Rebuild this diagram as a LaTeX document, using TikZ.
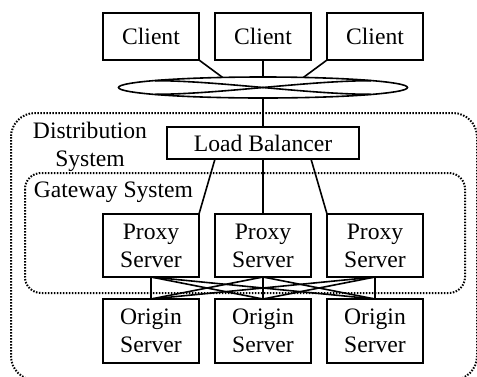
\documentclass[tikz,border=0pt]{standalone}
\usepackage{fontspec}
\setmainfont{Liberation Serif}
\usetikzlibrary{calc, shapes, positioning}

\begin{document}
\begin{tikzpicture}[x=0.5pt, y=-0.5pt, line width=0.8pt,
        font=\fontsize{11.8}{14}\selectfont,
        box/.style={draw, rectangle, minimum width=48pt, inner sep=0pt, outer sep=0pt, align=center},
        region/.style={draw, dash pattern=on 0.75pt off 0.75pt, line width=1pt, rounded corners=#1},
        node distance=8pt]
        \useasboundingbox (0,0) rectangle (477,376);

        \draw[region=12pt] (11,113) rectangle (477,380);
        \draw[region=8pt] (25,173) rectangle (465,293);
        \node[align=center, anchor=north, inner sep=0pt] (DistLabel) at (90,121) {Distribution\\System};
        \node[anchor=base west, inner sep=0pt] (GateLabel) at (33,197) {Gateway System};

        \node[box, minimum height=23.5pt] (Client2) at (263,36.5) {Client};
        \node[box, minimum height=23.5pt, left=of Client2] (Client1) {Client};
        \node[box, minimum height=23.5pt, right=of Client2] (Client3) {Client};
        \node[draw, ellipse, minimum width=144.5pt, minimum height=10.5pt, inner sep=0pt, outer sep=0pt] (Ring) at (263,87.5) {};
        \node[box, minimum width=96pt, minimum height=16pt] (Balancer) at (263,143) {Load Balancer};
        \node[box, minimum height=31.5pt] (Proxy2) at (263,245.5) {Proxy\\Server};
        \node[box, minimum height=31.5pt, left=of Proxy2] (Proxy1) {Proxy\\Server};
        \node[box, minimum height=31.5pt, right=of Proxy2] (Proxy3) {Proxy\\Server};
        \node[box, minimum height=32pt] (Origin2) at (263,331) {Origin\\Server};
        \node[box, minimum height=32pt, left=of Origin2] (Origin1) {Origin\\Server};
        \node[box, minimum height=32pt, right=of Origin2] (Origin3) {Origin\\Server};

        % twist of the ring
        \draw ($(Ring)+(-108,-6.8)$) .. controls ($(Ring)+(-45,-6.8)$) and ($(Ring)+(45,6.8)$) .. ($(Ring)+(108,6.8)$);
        \draw ($(Ring)+(-108,6.8)$) .. controls ($(Ring)+(-45,6.8)$) and ($(Ring)+(45,-6.8)$) .. ($(Ring)+(108,-6.8)$);

        \path
        (Client1.south east) edge (Ring.166)
        (Client2) edge (Ring)
        (Client3.south west) edge (Ring.14)
        (Ring) edge (Balancer)
        ($(Balancer.south west)!0.25!(Balancer.south east)$) edge (Proxy1.north east)
        (Balancer) edge (Proxy2)
        ($(Balancer.south west)!0.75!(Balancer.south east)$) edge (Proxy3.north west);

        \foreach \i in {1,2,3}
            \foreach \j in {1,2,3}
                \draw (Proxy\i.south) -- (Origin\j.north);
    \end{tikzpicture}
\end{document}
